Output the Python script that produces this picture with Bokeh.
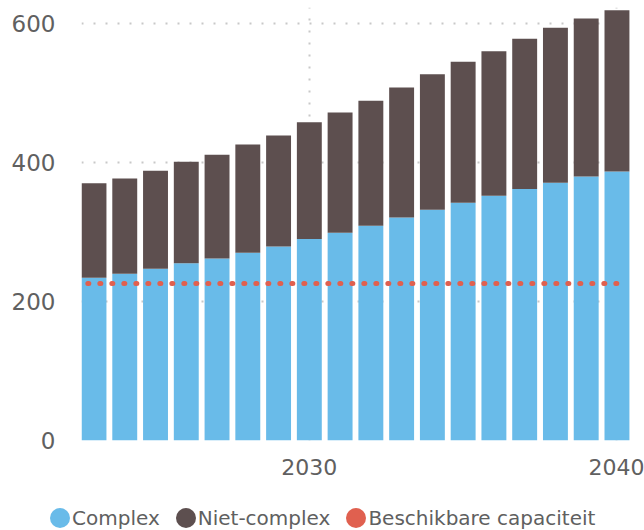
from bokeh.plotting import figure
from bokeh.models import ColumnDataSource, FixedTicker, Range1d, Legend, LegendItem
from bokeh.embed import file_html
from bokeh.resources import INLINE

years = [2023, 2024, 2025, 2026, 2027, 2028, 2029, 2030, 2031,
         2032, 2033, 2034, 2035, 2036, 2037, 2038, 2039, 2040]
complex_vals = [234, 240, 247, 255, 262, 270, 279, 290, 299,
                309, 321, 332, 342, 352, 362, 371, 380, 387]
totals = [370, 377, 388, 401, 411, 426, 439, 458, 472,
          489, 508, 527, 545, 560, 578, 594, 607, 619]
niet_complex_vals = [t - c for t, c in zip(totals, complex_vals)]
capacity = [226] * len(years)
x_ticks = [2030, 2040]
y_ticks = [0, 200, 400, 600]
series_names = ["Complex", "Niet-complex", "Beschikbare capaciteit"]

BLUE = "#69bbe9"
DARK = "#5d4f4f"
RED = "#e0604f"
TXT = "#606060"
FONT = "DejaVu Sans"

src = ColumnDataSource(dict(year=years, complex=complex_vals, niet=niet_complex_vals,
                            cap=capacity))

p = figure(width=644, height=490, output_backend="svg", toolbar_location=None,
           x_range=Range1d(2022.594, 2040.44), y_range=Range1d(0, 623),
           min_border_left=81, min_border_right=14, min_border_top=7,
           min_border_bottom=50)
p.outline_line_color = None

p.vbar_stack(["complex", "niet"], x="year", width=0.81, source=src,
             color=[BLUE, DARK], line_color=None)

p.line(x=[years[0] - 0.2, years[-1]], y=[capacity[0], capacity[-1]],
       line_color=RED, line_width=5, line_dash="1 11", line_cap="round")

for ax in (p.xaxis[0], p.yaxis[0]):
    ax.axis_line_color = None
    ax.major_tick_line_color = None
    ax.minor_tick_line_color = None
    ax.major_label_text_font = FONT
    ax.major_label_text_color = TXT

p.xaxis.ticker = FixedTicker(ticks=x_ticks)
p.yaxis.ticker = FixedTicker(ticks=y_ticks)
p.xaxis.major_label_text_font_size = "22px"
p.yaxis.major_label_text_font_size = "23px"
p.yaxis.major_label_standoff = 20
p.xaxis.major_label_standoff = 12

for g in (p.xgrid[0], p.ygrid[0]):
    g.grid_line_color = "#c8c8c8"
    g.grid_line_width = 2
    g.grid_line_dash = "2 10"

# legend strip below the chart (separate root so its frame spans the full width)
q = figure(width=644, height=40, output_backend="svg", toolbar_location=None,
           x_range=Range1d(0, 1), y_range=Range1d(0, 1),
           x_axis_type=None, y_axis_type=None,
           min_border_left=0, min_border_right=0, min_border_top=0,
           min_border_bottom=0)
q.outline_line_color = None
q.xgrid.visible = False
q.ygrid.visible = False
colors = [BLUE, DARK, RED]
items = []
for name, col in zip(series_names, colors):
    r = q.ellipse(x=[-10], y=[-10], width=20, height=20, width_units="screen",
                  height_units="screen", fill_color=col, line_color=None)
    items.append(LegendItem(label=name, renderers=[r]))
legend = Legend(items=items, orientation="horizontal", location=(47, 0),
                label_text_font=FONT, label_text_font_size="20px",
                label_text_color=TXT, glyph_width=25, glyph_height=25,
                label_standoff=0, spacing=13, padding=0, margin=0,
                border_line_color=None, background_fill_alpha=0)
q.add_layout(legend)

html = file_html([p, q], INLINE)
open("out.html", "w").write(html)
